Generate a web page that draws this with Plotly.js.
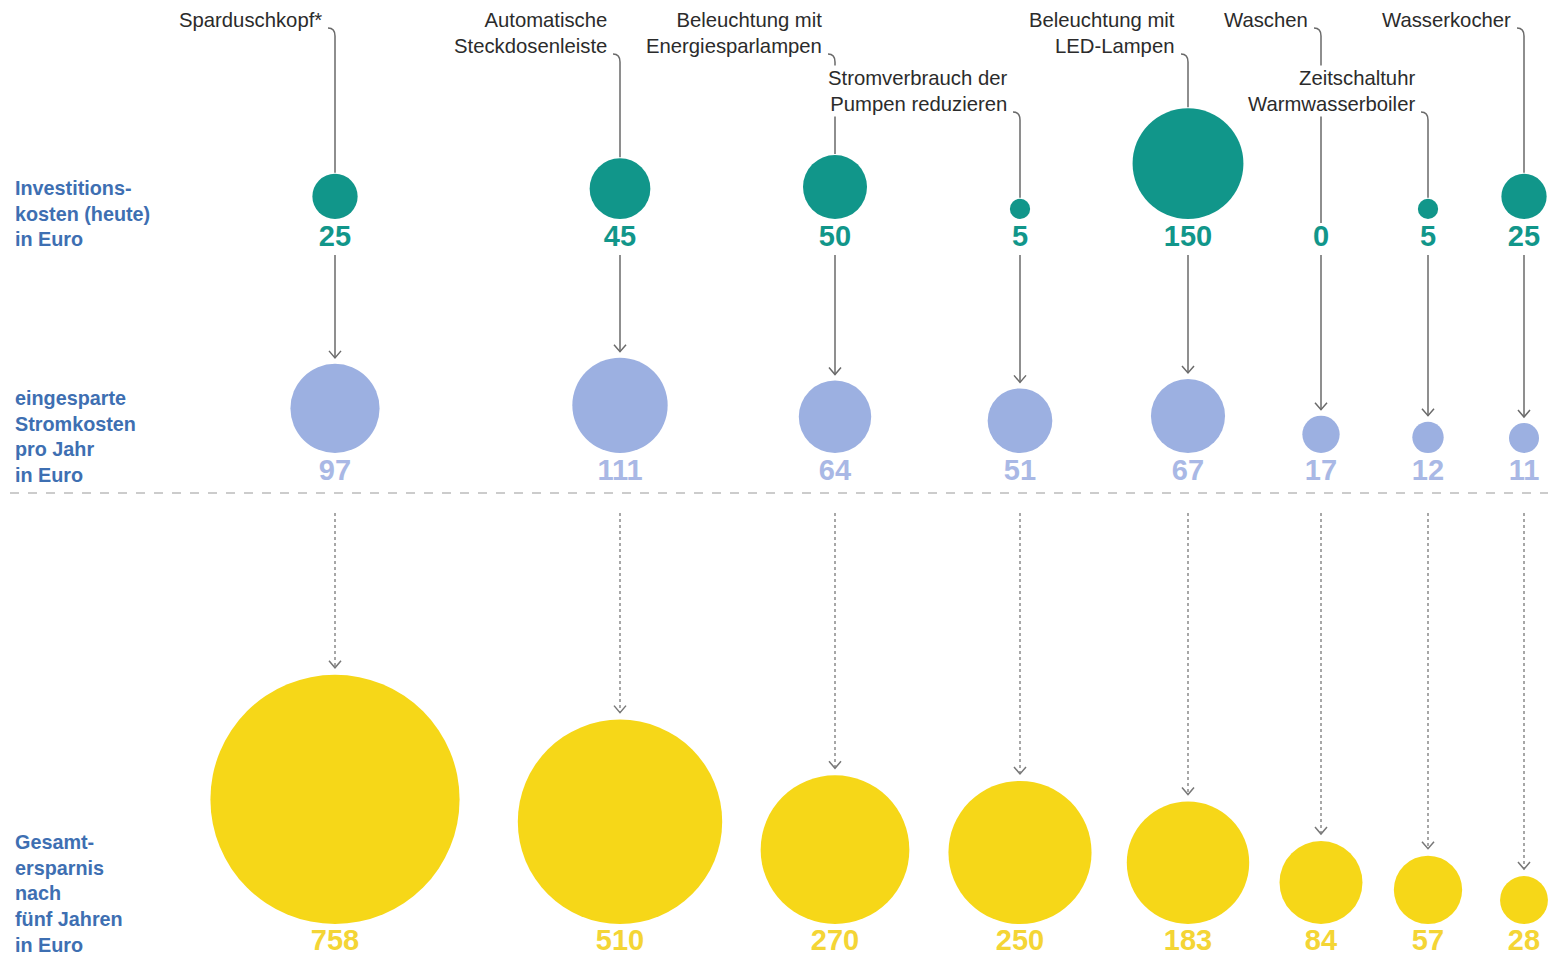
<!DOCTYPE html>
<html><head><meta charset="utf-8">
<script src="https://cdn.plot.ly/plotly-3.0.1.min.js"></script>
<style>html,body{margin:0;padding:0;background:#fff}#chart{width:1552px;height:955px}</style>
</head><body><div id="chart"></div>
<script>
// ---- data ----
const categories = ["Sparduschkopf*", "Automatische<br>Steckdosenleiste", "Beleuchtung mit<br>Energiesparlampen",
  "Stromverbrauch der<br>Pumpen reduzieren", "Beleuchtung mit<br>LED-Lampen", "Waschen",
  "Zeitschaltuhr<br>Warmwasserboiler", "Wasserkocher"];
const investitionskosten = [25, 45, 50, 5, 150, 0, 5, 25];
const stromkostenProJahr = [97, 111, 64, 51, 67, 17, 12, 11];
const ersparnisFuenfJahre = [758, 510, 270, 250, 183, 84, 57, 28];
const rowLabels = ["Investitions-<br>kosten (heute)<br>in Euro",
  "eingesparte<br>Stromkosten<br>pro Jahr<br>in Euro",
  "Gesamt-<br>ersparnis<br>nach<br>fünf Jahren<br>in Euro"];

// ---- layout (pixel positions) ----
const colX = [335, 620, 835, 1020, 1188, 1321, 1428, 1524];
const labelTier = [0, 0, 0, 1, 0, 0, 1, 0];
const K = 9.05;                  // circle diameter per sqrt(euro), px
const base = [219, 453, 924];    // circle bottom per row
const numY = [239, 473, 943];    // value label centres
const rowLabelY = [213, 436, 893];
const circleColors = ['#11968a', '#9cb0e1', '#f6d718'];
const numColors = ['#11968a', '#a9b8e5', '#f4d535'];
const FONT = 'Liberation Sans, Arial, sans-serif';

const rows = [investitionskosten, stromkostenProJahr, ersparnisFuenfJahre];
const diam = v => K * Math.sqrt(v);

const traces = [];
rows.forEach((vals, r) => {
  traces.push({
    type: 'scatter', mode: 'markers', hoverinfo: 'skip',
    x: colX, y: vals.map(v => base[r] - diam(v) / 2),
    marker: { size: vals.map(diam), sizemode: 'diameter', color: circleColors[r], line: { width: 0 }, opacity: 1 }
  });
  traces.push({
    type: 'scatter', mode: 'text', hoverinfo: 'skip',
    x: colX, y: vals.map(() => numY[r]), text: vals.map(String),
    textposition: 'middle center',
    textfont: { family: FONT, size: 29, color: numColors[r], weight: 'bold' }
  });
});

const shapes = [];
const annotations = [];
const lineCol = '#6a6a6a';
const chevron = (x, tip) => `M ${x - 6},${tip - 7} L ${x},${tip} L ${x + 6},${tip - 7}`;

categories.forEach((c, i) => {
  const x = colX[i];
  const nLines = c.split('<br>').length;
  const topY = labelTier[i] === 0 ? 20 : 78;
  const lastY = topY + (nLines - 1) * 26;
  annotations.push({
    xref: 'x', yref: 'y', x: x - 11, y: topY + (nLines - 1) * 13,
    xanchor: 'right', yanchor: 'middle', align: 'right', showarrow: false,
    text: c, bgcolor: labelTier[i] === 1 ? '#ffffff' : 'rgba(0,0,0,0)', borderpad: 1,
    font: { family: FONT, size: 20.3, color: '#2b2b2b' }
  });
  const inv = investitionskosten[i];
  const end = inv > 0 ? base[0] - diam(inv) - 1 : numY[0] - 16;
  shapes.push({
    type: 'path', xref: 'x', yref: 'y', layer: 'below',
    path: `M ${x - 7},${lastY + 8} Q ${x},${lastY + 8} ${x},${lastY + 16} L ${x},${end}`,
    line: { color: lineCol, width: 1.5 }
  });
  // solid arrow to yearly savings
  const tip1 = base[1] - diam(stromkostenProJahr[i]) - 6;
  shapes.push({ type: 'line', xref: 'x', yref: 'y', x0: x, x1: x, y0: numY[0] + 16, y1: tip1, line: { color: lineCol, width: 1.5 } });
  shapes.push({ type: 'path', xref: 'x', yref: 'y', path: chevron(x, tip1), line: { color: lineCol, width: 1.5 } });
  // dotted arrow to 5-year savings
  const tip2 = base[2] - diam(ersparnisFuenfJahre[i]) - 7;
  shapes.push({ type: 'line', xref: 'x', yref: 'y', x0: x, x1: x, y0: 513, y1: tip2, line: { color: '#8a8a8a', width: 1.5, dash: 'dot' } });
  shapes.push({ type: 'path', xref: 'x', yref: 'y', path: chevron(x, tip2), line: { color: '#777', width: 1.5 } });
});

// separator
shapes.push({ type: 'line', xref: 'x', yref: 'y', x0: 10, x1: 1548, y0: 493, y1: 493, line: { color: '#9a9a9a', width: 1.2, dash: 'dash' } });

rowLabels.forEach((t, r) => {
  annotations.push({
    xref: 'x', yref: 'y', x: 13, y: rowLabelY[r], xanchor: 'left', yanchor: 'middle', align: 'left',
    showarrow: false, text: t,
    font: { family: FONT, size: 19.8, color: '#3e6fb2', weight: 'bold' }
  });
});

const layout = {
  width: 1552, height: 955,
  margin: { l: 0, r: 0, t: 0, b: 0 },
  paper_bgcolor: '#ffffff', plot_bgcolor: '#ffffff',
  showlegend: false,
  xaxis: { range: [0, 1552], visible: false, fixedrange: true },
  yaxis: { range: [955, 0], visible: false, fixedrange: true },
  shapes, annotations
};
Plotly.newPlot('chart', traces, layout, { displayModeBar: false, staticPlot: true });
</script>
</body></html>
